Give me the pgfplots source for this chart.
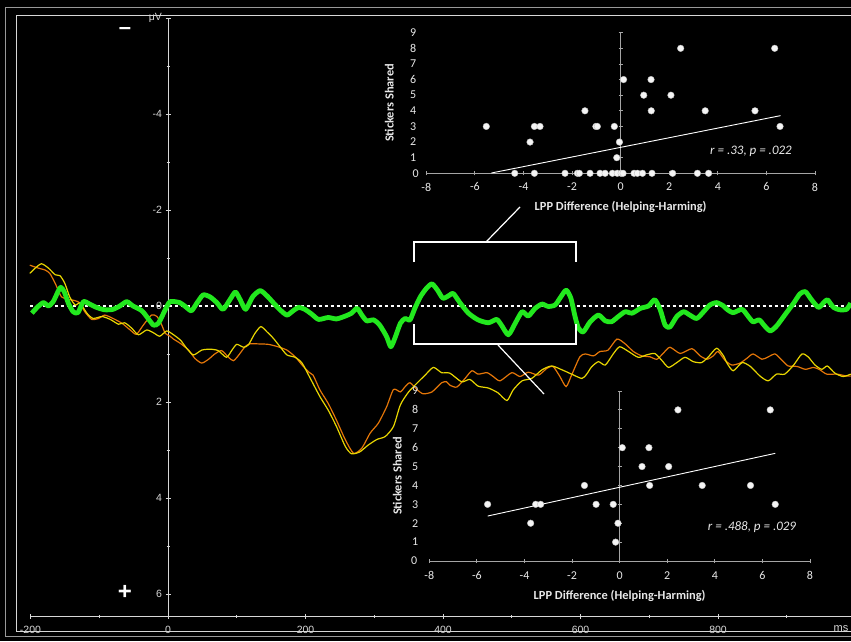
\documentclass[border=0pt]{standalone}
\usepackage{fontspec}
\setmainfont{Liberation Sans}
\newfontfamily\carlito{Carlito}
\usepackage{pgfplots}
\pgfplotsset{compat=1.18}
\definecolor{erpgreen}{RGB}{34,232,30}
\definecolor{erporange}{RGB}{228,118,8}
\definecolor{erpyellow}{RGB}{232,214,0}
\definecolor{axgray}{RGB}{215,215,215}
\definecolor{inset}{RGB}{232,232,232}
\definecolor{insetax}{RGB}{165,165,165}
\begin{document}
\begin{tikzpicture}[x=1pt,y=1pt]
\fill[black] (0pt,0pt) rectangle (851pt,641pt);
\draw[gray!80, line width=0.8pt] (5pt,5pt) -- (5pt,634pt) -- (851pt,634pt);
\draw[gray!80, line width=0.8pt] (5pt,5pt) -- (851pt,5pt);
\draw[axgray, line width=1pt] (16pt,10pt) -- (16pt,625pt) -- (851pt,625pt);
\draw[axgray, line width=1pt] (16pt,10pt) -- (851pt,10pt);
% main ERP axis
\begin{axis}[at={(30.5pt,25pt)}, anchor=south west, scale only axis,
  width=821.6pt, height=598pt,
  xmin=-200, xmax=995, ymin=-6, ymax=6.46, y dir=reverse,
  axis x line=bottom, axis y line=middle,
  axis line style={-, draw=axgray, line width=1pt},
  xtick={-200,0,200,400,600,800}, xticklabels={-200,0,200,400,600,800},
  minor xtick={-100,100,300,500,700,900},
  ytick={-6,-4,-2,0,2,4,6}, yticklabels={μV,-4,-2,0,2,4,6},
  minor ytick={-5,-3,-1,1,3,5},
  tick style={axgray, line width=0.8pt},
  major tick length=5pt, minor tick length=3pt,
  ticklabel style={font=\fontsize{10.5}{12}\selectfont, text=axgray},
  xticklabel style={yshift=-4pt},
  clip=false]
\draw[white, dash pattern=on 3pt off 3pt, line width=1.3pt] (axis cs:-200,0) -- (axis cs:995,0);
\addplot[erporange, line width=1.2pt, smooth, tension=0.4] coordinates {
(-201,-0.85)(-189,-0.79)(-179,-0.75)(-172,-0.68)(-164,-0.47)(-155,-0.19)(-145,-0.14)(-135,-0.11)(-128,-0.06)(-121,0.12)(-111,0.28)(-101,0.26)(-92,0.19)(-80,0.26)(-67,0.36)(-55,0.50)(-46,0.59)(-36,0.40)(-24,0.19)(-16,0.22)(-9,0.40)(-4,0.57)(3,0.63)(8,0.69)(18,0.78)(30,0.92)(39,1.09)(49,1.19)(59,1.11)(68,1.00)(78,0.93)(88,1.07)(95,1.14)(102,1.04)(112,0.85)(119,0.79)(131,0.79)(146,0.80)(160,0.85)(173,0.92)(185,1.06)(195,1.23)(205,1.38)(211,1.44)(221,1.75)(233,2.03)(245,2.38)(258,2.79)(270,3.07)(282,2.96)(294,2.65)(306,2.44)(318,2.10)(328,1.74)(338,1.79)(345,1.68)(352,1.60)(362,1.74)(371,1.83)(384,1.79)(398,1.60)(405,1.58)(410,1.65)(420,1.69)(432,1.51)(442,1.35)(451,1.42)(464,1.39)(473,1.47)(483,1.56)(500,1.39)(512,1.47)(524,1.38)(539,1.44)(551,1.30)(560,1.26)(570,1.47)(579,1.68)(587,1.44)(599,1.06)(607,1.00)(619,1.04)(628,0.95)(640,0.92)(653,0.69)(665,0.79)(677,0.95)(689,1.04)(701,1.06)(711,1.11)(720,0.99)(730,0.86)(745,0.99)(762,0.89)(774,1.04)(784,1.11)(793,1.04)(800,0.95)(810,1.13)(820,1.23)(832,1.19)(842,1.09)(851,1.00)(864,1.11)(873,1.06)(883,1.00)(893,1.13)(902,1.25)(915,1.26)(927,1.32)(939,1.28)(948,1.33)(958,1.42)(973,1.42)(987,1.46)(993,1.46)};
\addplot[erpyellow, line width=1.2pt, smooth, tension=0.4] coordinates {
(-201,-0.68)(-193,-0.79)(-184,-0.88)(-174,-0.79)(-164,-0.65)(-157,-0.63)(-150,-0.47)(-143,-0.19)(-135,-0.02)(-128,-0.06)(-118,0.15)(-109,0.26)(-96,0.22)(-84,0.28)(-72,0.38)(-63,0.35)(-53,0.46)(-43,0.60)(-31,0.50)(-21,0.56)(-12,0.63)(-2,0.52)(5,0.57)(18,0.71)(27,0.88)(37,1.02)(49,0.92)(61,0.90)(73,0.93)(85,1.07)(93,0.92)(100,0.80)(110,0.86)(117,0.81)(126,0.58)(135,0.43)(144,0.54)(153,0.67)(163,0.85)(173,1.02)(185,1.07)(195,1.19)(207,1.51)(221,1.89)(233,2.17)(245,2.51)(258,2.93)(267,3.08)(279,3.04)(291,2.90)(304,2.78)(316,2.72)(328,2.51)(338,2.06)(350,1.79)(362,1.61)(374,1.44)(386,1.28)(398,1.39)(410,1.40)(427,1.58)(439,1.53)(451,1.67)(466,1.71)(480,1.81)(493,1.97)(502,1.75)(515,1.56)(529,1.51)(544,1.33)(558,1.25)(573,1.33)(587,1.42)(602,1.51)(609,1.42)(616,1.27)(626,1.16)(636,1.23)(648,0.99)(657,0.85)(670,0.95)(684,1.07)(696,1.02)(708,0.99)(718,1.13)(728,1.28)(740,1.18)(752,1.07)(764,1.16)(776,1.18)(786,1.06)(798,0.88)(808,1.04)(813,1.19)(822,1.35)(835,1.18)(847,1.26)(861,1.46)(873,1.56)(885,1.42)(897,1.42)(910,1.23)(922,1.00)(931,1.06)(941,1.23)(951,1.32)(959,1.25)(970,1.40)(982,1.47)(993,1.42)};
\addplot[erpgreen, line width=4.8pt, smooth, tension=0.4, line join=round] coordinates {
(-198,0.15)(-189,0.01)(-181,-0.07)(-174,0)(-167,-0.09)(-160,-0.30)(-156,-0.39)(-151,-0.30)(-145,-0.06)(-138,0.12)(-131,0.14)(-123,-0.09)(-114,-0.04)(-104,0.03)(-92,0.08)(-80,0.07)(-70,0)(-60,-0.09)(-51,0)(-38,0.10)(-29,0.26)(-21,0.40)(-14,0.36)(-4,0.08)(3,-0.09)(17,-0.07)(25,0.01)(34,0.10)(42,-0.06)(51,-0.23)(61,-0.19)(71,-0.07)(80,0.07)(90,-0.13)(98,-0.29)(105,-0.13)(113,0.07)(123,-0.19)(134,-0.32)(144,-0.21)(153,-0.07)(163,0.08)(173,0.19)(182,0.10)(190,0.03)(199,0.07)(209,0.17)(219,0.28)(233,0.24)(245,0.27)(258,0.21)(267,0.15)(275,0.05)(282,0.19)(289,0.31)(299,0.29)(308,0.40)(318,0.64)(324,0.85)(330,0.67)(338,0.36)(345,0.26)(352,0.29)(359,0.05)(367,-0.19)(376,-0.37)(384,-0.46)(392,-0.33)(400,-0.16)(410,-0.23)(415,-0.26)(425,-0.06)(437,0.15)(451,0.29)(466,0.35)(478,0.28)(485,0.40)(495,0.60)(505,0.36)(515,0.12)(524,0.21)(534,0.05)(544,-0.04)(553,0.01)(563,-0.02)(570,-0.16)(579,-0.33)(586,-0.16)(592,0.22)(597,0.46)(604,0.54)(614,0.33)(626,0.19)(636,0.31)(645,0.33)(655,0.22)(665,0.12)(675,0.15)(687,0.05)(699,0)(708,-0.13)(716,0.08)(723,0.40)(730,0.44)(740,0.22)(750,0.12)(759,0.19)(769,0.26)(779,0.12)(788,-0.02)(798,-0.07)(808,0)(813,0.07)(822,0.14)(835,0.07)(844,0.22)(851,0.33)(860,0.29)(868,0.42)(876,0.52)(885,0.42)(897,0.19)(910,-0.06)(919,-0.25)(927,-0.30)(936,-0.13)(946,0.03)(953,-0.06)(959,-0.13)(968,0.03)(977,0.08)(987,0.07)(993,-0.06)};
\end{axis}
% brackets and connectors
\draw[white, line width=1.6pt] (414pt,379pt) -- (414pt,399pt) -- (576pt,399pt) -- (576pt,379pt);
\draw[white, line width=1.6pt] (414pt,317pt) -- (414pt,297pt) -- (576pt,297pt) -- (576pt,317pt);
\draw[white, line width=1.2pt] (486pt,399pt) -- (520pt,434pt);
\draw[white, line width=1.2pt] (498pt,296pt) -- (544pt,247pt);
\node[white, font=\bfseries\fontsize{22}{22}\selectfont] at (125pt,610pt) {–};
\node[white, font=\bfseries\fontsize{24}{24}\selectfont] at (125pt,49pt) {+};
\node[axgray, font=\fontsize{11}{12}\selectfont] at (841pt,12pt) {ms};
% top inset
\begin{axis}[at={(426.3pt,467.7pt)}, anchor=south west, scale only axis,
  width=388.7pt, height=140.6pt, xmin=-8, xmax=8, ymin=0, ymax=9,
  axis x line=bottom, axis y line=middle,
  axis line style={-, draw=insetax, line width=1pt},
  xtick={-8,-6,-4,-2,0,2,4,6,8}, xticklabels={-8,-6,-4,-2,0,2,4,6,8},
  ytick={0,1,2,3,4,5,6,7,8,9}, yticklabels={0,1,2,3,4,5,6,7,8,9},
  tick style={insetax, line width=0.8pt}, major tick length=4pt,
  ticklabel style={font=\carlito\fontsize{12}{13}\selectfont, text=inset},
  xticklabel style={yshift=-4pt}, yticklabel style={xshift=-199pt},
  xlabel={LPP Difference (Helping-Harming)}, ylabel={Stickers Shared},
  label style={font=\carlito\bfseries\fontsize{12.4}{14}\selectfont, text=inset},
  x label style={at={(axis description cs:0.5,-0.242)}, anchor=center},
  y label style={at={(axis description cs:-0.095,0.5)}, anchor=center, rotate=90},
  clip=false]
\node[anchor=east, inset, font=\carlito\fontsize{12}{13}\selectfont, inner sep=0pt] at (axis cs:-8,0) [xshift=-7.5pt] {0};
\addplot[white, line width=0.9pt] coordinates {(-5.32,0.02)(6.58,3.69)};
\addplot[only marks, mark=*, mark size=3.3pt, mark options={fill=white!92!gray, draw=gray!50}] coordinates {
(-5.53,3)(-4.36,0)(-3.73,2)(-3.55,3)(-3.32,3)(-3.55,0)(-2.29,0)(-1.78,0)(-1.70,0)(-1.47,4)(-1.26,0)(-1.02,3)(-0.96,3)(-0.85,0)(-0.64,0)(-0.34,0)(-0.26,3)(-0.05,2)(-0.16,1)(-0.14,0)(0.02,0)(0.10,0)(0.12,6)(0.55,0)(0.69,0)(0.90,0)(0.95,5)(1.25,6)(1.26,4)(1.29,0)(2.07,5)(2.14,0)(2.47,8)(3.16,0)(3.48,4)(3.62,0)(5.53,4)(6.34,8)(6.56,3)};
\end{axis}
\node[inset, font=\carlito\itshape\fontsize{13}{15}\selectfont] at (751pt,490pt) {r = .33, p = .022};
% bottom inset
\begin{axis}[at={(429.3pt,80pt)}, anchor=south west, scale only axis,
  width=380.7pt, height=170pt, xmin=-8, xmax=8, ymin=0, ymax=9,
  axis x line=bottom, axis y line=middle,
  axis line style={-, draw=insetax, line width=1pt},
  xtick={-8,-6,-4,-2,0,2,4,6,8}, xticklabels={-8,-6,-4,-2,0,2,4,6,8},
  ytick={0,1,2,3,4,5,6,7,8,9}, yticklabels={0,1,2,3,4,5,6,7,8,9},
  tick style={insetax, line width=0.8pt}, major tick length=4pt,
  ticklabel style={font=\carlito\fontsize{12}{13}\selectfont, text=inset},
  xticklabel style={yshift=-5pt}, yticklabel style={xshift=-196pt},
  xlabel={LPP Difference (Helping-Harming)}, ylabel={Stickers Shared},
  label style={font=\carlito\bfseries\fontsize{12.4}{14}\selectfont, text=inset},
  x label style={at={(axis description cs:0.5,-0.206)}, anchor=center},
  y label style={at={(axis description cs:-0.084,0.5)}, anchor=center, rotate=90},
  clip=false]
\node[anchor=east, inset, font=\carlito\fontsize{12}{13}\selectfont, inner sep=0pt] at (axis cs:-8,0) [xshift=-12pt] {0};
\addplot[white, line width=0.9pt] coordinates {(-5.55,2.38)(6.54,5.70)};
\addplot[only marks, mark=*, mark size=3.3pt, mark options={fill=white!92!gray, draw=gray!50}] coordinates {
(-5.55,3)(-3.74,2)(-3.53,3)(-3.32,3)(-1.48,4)(-0.99,3)(-0.27,3)(-0.07,2)(-0.17,1)(0.11,6)(0.94,5)(1.23,6)(1.26,4)(2.06,5)(2.45,8)(3.47,4)(5.50,4)(6.33,8)(6.54,3)};
\end{axis}
\node[inset, font=\carlito\itshape\fontsize{13}{15}\selectfont] at (752pt,114pt) {r = .488, p = .029};
\pgfresetboundingbox
\path[use as bounding box] (0pt,0pt) rectangle (851pt,641pt);
\end{tikzpicture}
\end{document}
